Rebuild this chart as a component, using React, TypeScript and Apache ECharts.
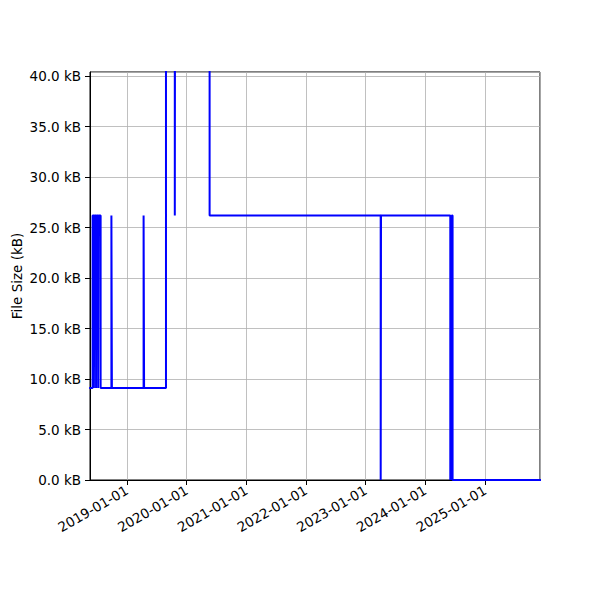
import React, { useEffect, useRef } from "react";
import * as echarts from "echarts";

const dates: string[] = [
  "2018-05-15", "2018-06-05", "2018-06-13", "2018-06-16", "2018-06-26", "2018-06-29",
  "2018-07-09", "2018-07-12", "2018-07-24", "2018-09-28", "2018-10-01", "2019-04-13",
  "2019-04-16", "2019-08-28", "2019-10-21", "2019-10-23", "2020-05-21", "2023-04-03",
  "2023-04-05", "2024-06-02", "2024-06-05", "2024-06-08", "2024-06-11", "2024-06-16",
  "2025-12-10",
];
const sizesKB: number[] = [
  9.1, 26.2, 9.1, 26.2, 9.1, 26.2,
  9.1, 26.2, 9.1, 26.2, 9.1, 26.2,
  9.1, 60, 26.2, 60, 26.2, 0,
  26.2, 0, 26.2, 0, 26.2, 0,
  0,
];
const xMin = "2018-05-20";
const xMax = "2025-12-03";
const yMax = 40.4;

export default function App() {
  const ref = useRef<HTMLDivElement>(null);
  useEffect(() => {
    document.body.style.margin = "0";
    if (!ref.current) return;
    const chart = echarts.init(ref.current, undefined, { renderer: "svg" });
    const font = "DejaVu Sans";
    const year = 365 * 24 * 3600 * 1000;
    chart.setOption({
      animation: false,
      grid: {
        left: 90, right: 60, top: 72, bottom: 120,
        containLabel: false,
        outerBoundsMode: "none",
        show: true, borderColor: "#000", borderWidth: 1, backgroundColor: "transparent",
      },
      xAxis: {
        type: "time",
        min: new Date(xMin + "T00:00:00").getTime(),
        max: new Date(xMax + "T00:00:00").getTime(),
        minInterval: year,
        maxInterval: year,
        axisLine: { show: true, lineStyle: { color: "#000", width: 1 } },
        axisTick: { show: true, inside: false, length: 5, lineStyle: { color: "#000" } },
        splitLine: { show: true, lineStyle: { color: "#b0b0b0", width: 0.8 } },
        axisLabel: {
          color: "#000", fontFamily: font, fontSize: 13.5, rotate: 30, margin: 9,
          showMinLabel: false, showMaxLabel: false,
          formatter: "{yyyy}-{MM}-{dd}",
          hideOverlap: false,
        },
      },
      yAxis: {
        type: "value",
        min: 0, max: yMax, interval: 5,
        name: "File Size (kB)",
        nameLocation: "middle",
        nameGap: 66,
        nameMoveOverlap: false,
        nameTextStyle: { color: "#000", fontFamily: font, fontSize: 13.5 },
        axisLine: { show: true, lineStyle: { color: "#000", width: 1 } },
        axisTick: { show: true, inside: false, length: 5, lineStyle: { color: "#000" } },
        splitLine: { show: true, lineStyle: { color: "#b0b0b0", width: 0.8 } },
        axisLabel: {
          color: "#000", fontFamily: font, fontSize: 13.5, margin: 9,
          showMaxLabel: false,
          formatter: (v: number) => `${v.toFixed(1)} kB`,
        },
      },
      series: [
        {
          type: "line",
          step: "end",
          showSymbol: false,
          clip: true,
          lineStyle: { color: "#0000ff", width: 2 },
          data: dates.map((d, i) => [new Date(d + "T00:00:00").getTime(), sizesKB[i]]),
        },
      ],
    });
    return () => chart.dispose();
  }, []);
  return <div ref={ref} style={{ width: 600, height: 600 }} />;
}
